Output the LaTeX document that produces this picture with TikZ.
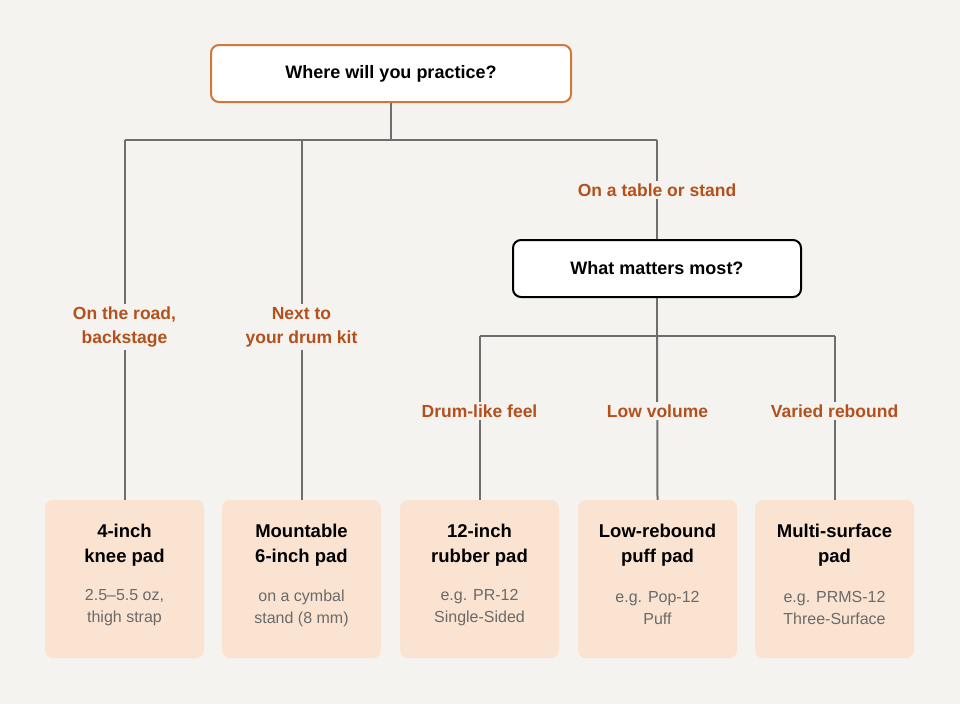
\documentclass[tikz,border=0pt]{standalone}
\usepackage{fontspec}
\setmainfont{Liberation Sans}
\usetikzlibrary{positioning}
\definecolor{bgcol}{HTML}{F5F3EF}
\definecolor{linecol}{HTML}{6E6E6E}
\definecolor{labcol}{HTML}{B4501C}
\definecolor{padcol}{HTML}{FAE3D1}
\definecolor{topcol}{HTML}{D2773A}
\definecolor{subcol}{HTML}{6A6A6A}
\begin{document}
\begin{tikzpicture}[x=1pt,y=-1pt,
    question/.style={draw=#1,line width=2pt,fill=white,rounded corners=8pt,
      minimum height=57pt,font=\bfseries\fontsize{18}{22}\selectfont},
    branch/.style={fill=bgcol,text=labcol,align=center,inner sep=3pt,
      font=\bfseries\fontsize{17.5}{24}\selectfont},
    pad/.style={fill=padcol,rounded corners=8pt,minimum width=159pt,minimum height=158pt},
    padtitle/.style={align=center,font=\bfseries\fontsize{18.5}{25}\selectfont},
    padnote/.style={align=center,text=subcol,font=\fontsize{16}{22}\selectfont},
    link/.style={draw=linecol,line width=2pt}]
  \fill[bgcol] (0,0) rectangle (960,704);
  % questions
  \node[question=topcol,minimum width=360pt] (where) at (391,73.5) {Where will you practice?};
  \node[question=black,minimum width=288pt] (what) at (657,268.5) {What matters most?};
  % pads
  \node[pad] (knee) at (124.5,579) {};
  \node[pad] (mount) at (301.5,579) {};
  \node[pad] (rubber) at (479.5,579) {};
  \node[pad] (puff) at (657.5,579) {};
  \node[pad] (multi) at (834.5,579) {};
  \node[padtitle] at (124.5,545) {4-inch\\knee pad};
  \node[padtitle] at (301.5,545) {Mountable\\6-inch pad};
  \node[padtitle] at (479.5,545) {12-inch\\rubber pad};
  \node[padtitle] at (657.5,545) {Low-rebound\\puff pad};
  \node[padtitle] at (834.5,545) {Multi-surface\\pad};
  \node[padnote] at (124.5,608) {2.5–5.5 oz,\\thigh strap};
  \node[padnote] at (301.5,608) {on a cymbal\\stand (8 mm)};
  \node[padnote] at (479.5,608) {e.g. PR-12\\Single-Sided};
  \node[padnote] at (657.5,608) {e.g. Pop-12\\Puff};
  \node[padnote] at (834.5,608) {e.g. PRMS-12\\Three-Surface};
  % junctions
  \coordinate (j1) at (391,140);
  \coordinate (jl) at (124.5,140);
  \coordinate (jm) at (301.5,140);
  \coordinate (jr) at (657,140);
  \coordinate (j2) at (657,336);
  \coordinate (kl) at (479.5,336);
  \coordinate (kr) at (834.5,336);
  % tree
  \draw[link] (where.south) -- (j1);
  \draw[link] (jl) -- (jr);
  \draw[link] (jl) -- (knee.north);
  \draw[link] (jm) -- (mount.north);
  \draw[link] (jr) -- (what.north);
  \draw[link] (what.south) -- (j2);
  \draw[link] (kl) -- (kr);
  \draw[link] (kl) -- (rubber.north);
  \draw[link] (j2) -- (puff.north);
  \draw[link] (kr) -- (multi.north);
  % branch labels
  \node[branch] at (124.5,327) {On the road,\\backstage};
  \node[branch] at (301.5,327) {Next to\\your drum kit};
  \node[branch] at (657,190) {On a table or stand};
  \node[branch] at (479.5,411) {Drum-like feel};
  \node[branch] at (657.5,411) {Low volume};
  \node[branch] at (834.5,411) {Varied rebound};
\end{tikzpicture}
\end{document}
